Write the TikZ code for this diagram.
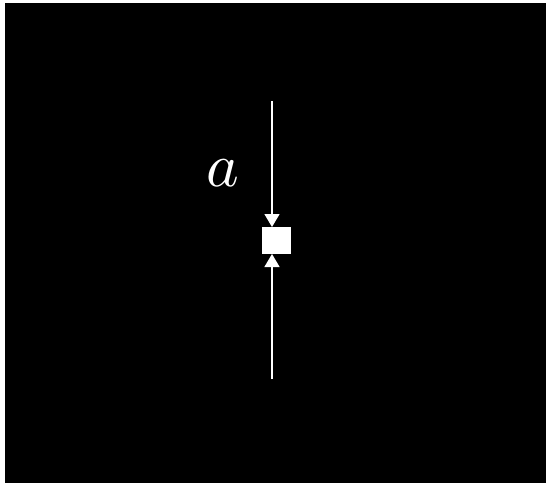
\documentclass[tikz,border=0pt]{standalone}
\usepackage{amsmath}
\usepackage{graphicx}
\usetikzlibrary{arrows.meta}
\newcommand{\biglabel}[1]{\scalebox{6.2}{$#1$}}
\tikzset{
    flow/diagram/.style={
        x=1pt, y=-1pt,
        draw=white, text=white,
        line width=1.4pt,
        every node/.style={inner sep=0pt, outer sep=0pt}
    },
    flow/feed/.style={
        draw=white, line width=1.4pt,
        -{Triangle[length=13pt, width=15pt]}
    },
    flow/sink/.style={rectangle, fill=white, draw=none,
        minimum width=29pt, minimum height=27pt}
}
\begin{document}
\begin{tikzpicture}[flow/diagram]
    \useasboundingbox (0,0) rectangle (546,483);
    \fill[white] (0,0) rectangle (546,483);
    \fill[black] (5,3) rectangle (546,483);
    \node[flow/sink] (sink) at (276.5,240.5) {};
    \coordinate (upper) at (272,101);
    \coordinate (lower) at (272,379);
    \draw[flow/feed] (upper) -- (upper |- sink.north);
    \draw[flow/feed] (lower) -- (lower |- sink.south);
    \node (alab) at (223,173.5) {\biglabel{a}};
\end{tikzpicture}
\end{document}
